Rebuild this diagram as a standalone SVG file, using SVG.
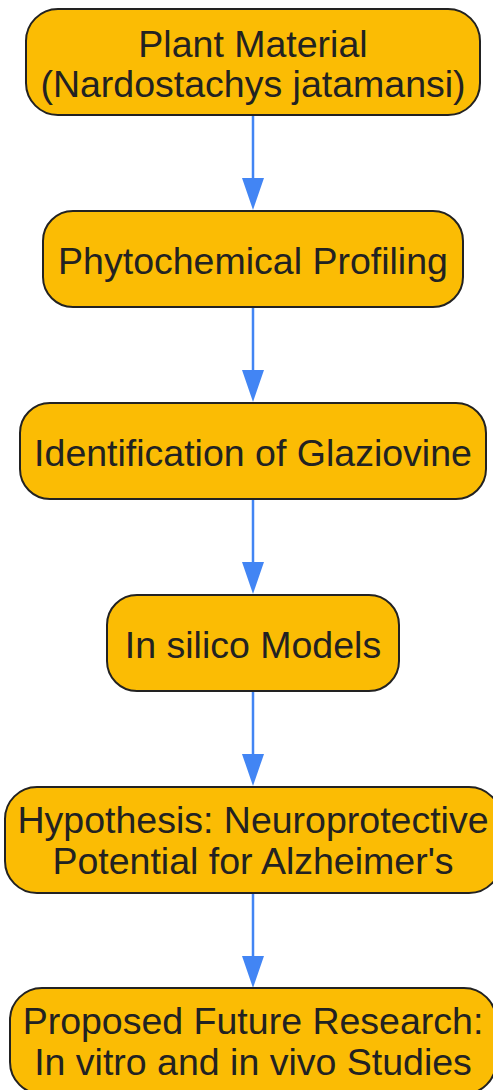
<svg xmlns="http://www.w3.org/2000/svg" width="493" height="1090" viewBox="0 0 493 1090">
<style>
.n rect{fill:#FBBC04;stroke:#222;stroke-width:2}
.n text{font-family:"Liberation Sans",Arial,sans-serif;font-size:37.5px;fill:#222;text-anchor:middle}
.e line{stroke:#4285F4;stroke-width:2.5;fill:none}
.e polygon{fill:#4285F4}
</style>
<rect width="493" height="1090" fill="#fff"/>
<g class="e" id="edges">
<line x1="253" y1="115" x2="253" y2="180"/><polygon points="242,178 264,178 253,210"/>
<line x1="253" y1="307" x2="253" y2="372"/><polygon points="242,370 264,370 253,402"/>
<line x1="253" y1="499" x2="253" y2="564"/><polygon points="242,562 264,562 253,594"/>
<line x1="253" y1="691" x2="253" y2="756"/><polygon points="242,754 264,754 253,786"/>
<line x1="253" y1="893" x2="253" y2="958"/><polygon points="242,956 264,956 253,988"/>
</g>
<g class="n" id="n1"><rect x="26" y="9" width="454" height="106" rx="32"/><text x="253" y="57">Plant Material</text><text x="253" y="97">(Nardostachys jatamansi)</text></g>
<g class="n" id="n2"><rect x="43" y="211" width="420" height="96" rx="30"/><text x="253" y="274">Phytochemical Profiling</text></g>
<g class="n" id="n3"><rect x="20" y="403" width="466" height="96" rx="30"/><text x="253" y="466">Identification of Glaziovine</text></g>
<g class="n" id="n4"><rect x="107" y="595" width="292" height="96" rx="30"/><text x="253" y="658">In silico Models</text></g>
<g class="n" id="n5"><rect x="5" y="787" width="496" height="106" rx="32"/><text x="253" y="833">Hypothesis: Neuroprotective</text><text x="253" y="874">Potential for Alzheimer's</text></g>
<g class="n" id="n6"><rect x="10" y="988" width="486" height="106" rx="32"/><text x="253" y="1034">Proposed Future Research:</text><text x="253" y="1075">In vitro and in vivo Studies</text></g>
</svg>
